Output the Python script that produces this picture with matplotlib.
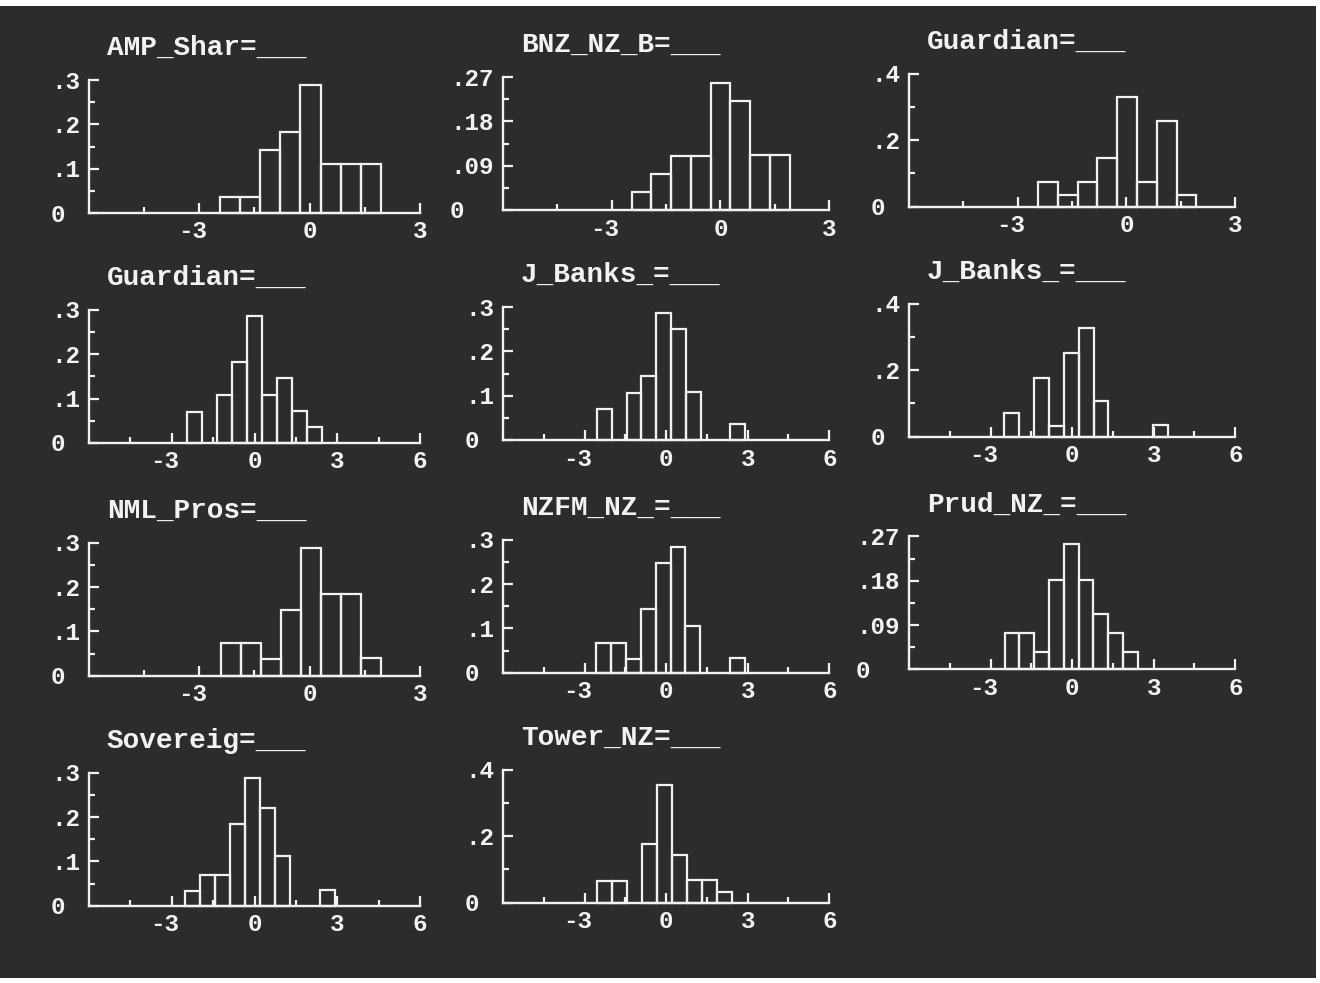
import numpy as np
import matplotlib
matplotlib.use('Agg')
import matplotlib.pyplot as plt

# histogram panels (relative frequencies)
titles = ['AMP_Shar=___', 'BNZ_NZ_B=___', 'Guardian=___', 'Guardian=___', 'J_Banks_=___',
          'J_Banks_=___', 'NML_Pros=___', 'NZFM_NZ_=___', 'Prud_NZ_=___', 'Sovereig=___',
          'Tower_NZ=___']
bin_start = [-2.43, -2.45, -2.44, -2.46, -2.54, -2.49, -2.41, -2.56, -2.48, -2.51, -2.53]
bin_width = [0.545, 0.545, 0.547, 0.544, 0.546, 0.547, 0.544, 0.546, 0.545, 0.544, 0.552]
heights = [
    [.036, .036, .143, .182, .289, .110, .110, .110],
    [.036, .073, .110, .110, .258, .221, .112, .112],
    [.075, .036, .075, .147, .331, .075, .257, .036],
    [.070, 0, .108, .182, .287, .108, .146, .072, .036],
    [.070, 0, .106, .144, .287, .251, .108, 0, 0, .036],
    [.070, 0, .177, .033, .253, .327, .108, 0, 0, 0, .036],
    [.074, .074, .037, .148, .289, .185, .185, .039],
    [.068, .068, .032, .143, .248, .284, .106, 0, 0, .034],
    [.073, .073, .035, .182, .255, .182, .112, .073, .036],
    [.034, .070, .070, .184, .289, .221, .111, 0, 0, .036],
    [.066, .066, 0, .177, .355, .142, .068, .068, .033],
]
x_max = [3, 3, 3, 6, 6, 6, 3, 6, 6, 6, 6]
y_max = [.3, .27, .4, .3, .3, .4, .3, .3, .27, .3, .4]
y_step = {.3: .1, .27: .09, .4: .2}

W, H = 1320, 983
BG = '#2c2c2c'
FG = '#f2f2f2'
FONT = 'Liberation Mono'
PX = 0.72  # points per pixel at dpi 100

fig = plt.figure(figsize=(W / 100, H / 100), dpi=100, facecolor='white')
fig.patches.append(plt.Rectangle((0, 5 / H), 1316 / W, 972 / H, transform=fig.transFigure,
                                 facecolor=BG, edgecolor='none', zorder=-10))

col_left = [89, 503, 909]
col_right = [420, 829, 1235]
col_dy = [3, 0, -3.3]
row_zero = [210, 440, 672.7, 902.7]
ax_h = 133

for i in range(len(titles)):
    r, c = divmod(i, 3)
    y0 = row_zero[r] + col_dy[c]
    ax = fig.add_axes([col_left[c] / W, 1 - y0 / H, (col_right[c] - col_left[c]) / W, ax_h / H])
    ax.set_facecolor('none')

    edges = bin_start[i] + bin_width[i] * np.arange(len(heights[i]))
    hs = np.array(heights[i])
    keep = hs > 0
    ax.bar(edges[keep], hs[keep], width=bin_width[i], align='edge', facecolor='none',
           edgecolor=FG, linewidth=1.6, clip_on=False, zorder=2)

    ax.set_xlim(-6, x_max[i])
    ax.set_ylim(0, y_max[i])
    for s in ['top', 'right']:
        ax.spines[s].set_visible(False)
    for s in ['left', 'bottom']:
        ax.spines[s].set_color(FG)
        ax.spines[s].set_linewidth(1.7)

    step = y_step[y_max[i]]
    ymaj = np.round(np.arange(0, y_max[i] + 1e-6, step), 3)
    ymin = np.round(np.arange(step / 2, y_max[i], step), 3)
    xmaj = np.arange(-3, x_max[i] + 0.1, 3)
    xmin = np.arange(-4.5, x_max[i] + 0.1, 3)
    ax.set_yticks(ymaj)
    ax.set_yticks(ymin, minor=True)
    ax.set_xticks(xmaj)
    ax.set_xticks(xmin, minor=True)
    ax.tick_params(which='both', direction='in', color=FG, width=1.6,
                   labelleft=False, labelbottom=False)
    ax.tick_params(which='major', length=7.5)
    ax.tick_params(which='minor', length=4.5)

    labels = ['0' if v == 0 else f'{v:g}'.lstrip('0') for v in ymaj]
    nchar = max(len(s) for s in labels)
    for v, s in zip(ymaj, labels):
        ax.annotate(s, xy=(0, v), xycoords=ax.get_yaxis_transform(),
                    xytext=(-(nchar * 15 + 8) * PX, -2 * PX), textcoords='offset points',
                    ha='left', va='center', color=FG, fontsize=17.5, family=FONT,
                    fontweight='bold', annotation_clip=False)
    for v in xmaj:
        ax.annotate(f'{v:g}', xy=(v, 0), xycoords=ax.get_xaxis_transform(),
                    xytext=(7.5 * PX, -19 * PX), textcoords='offset points',
                    ha='right', va='center', color=FG, fontsize=17.5, family=FONT,
                    fontweight='bold', annotation_clip=False)

    ax.annotate(titles[i], xy=(0, 1), xycoords='axes fraction',
                xytext=(18 * PX, 32 * PX), textcoords='offset points',
                ha='left', va='center', color=FG, fontsize=20, family=FONT,
                fontweight='bold', annotation_clip=False)

fig.savefig('out.png', dpi=100, facecolor=fig.get_facecolor())
